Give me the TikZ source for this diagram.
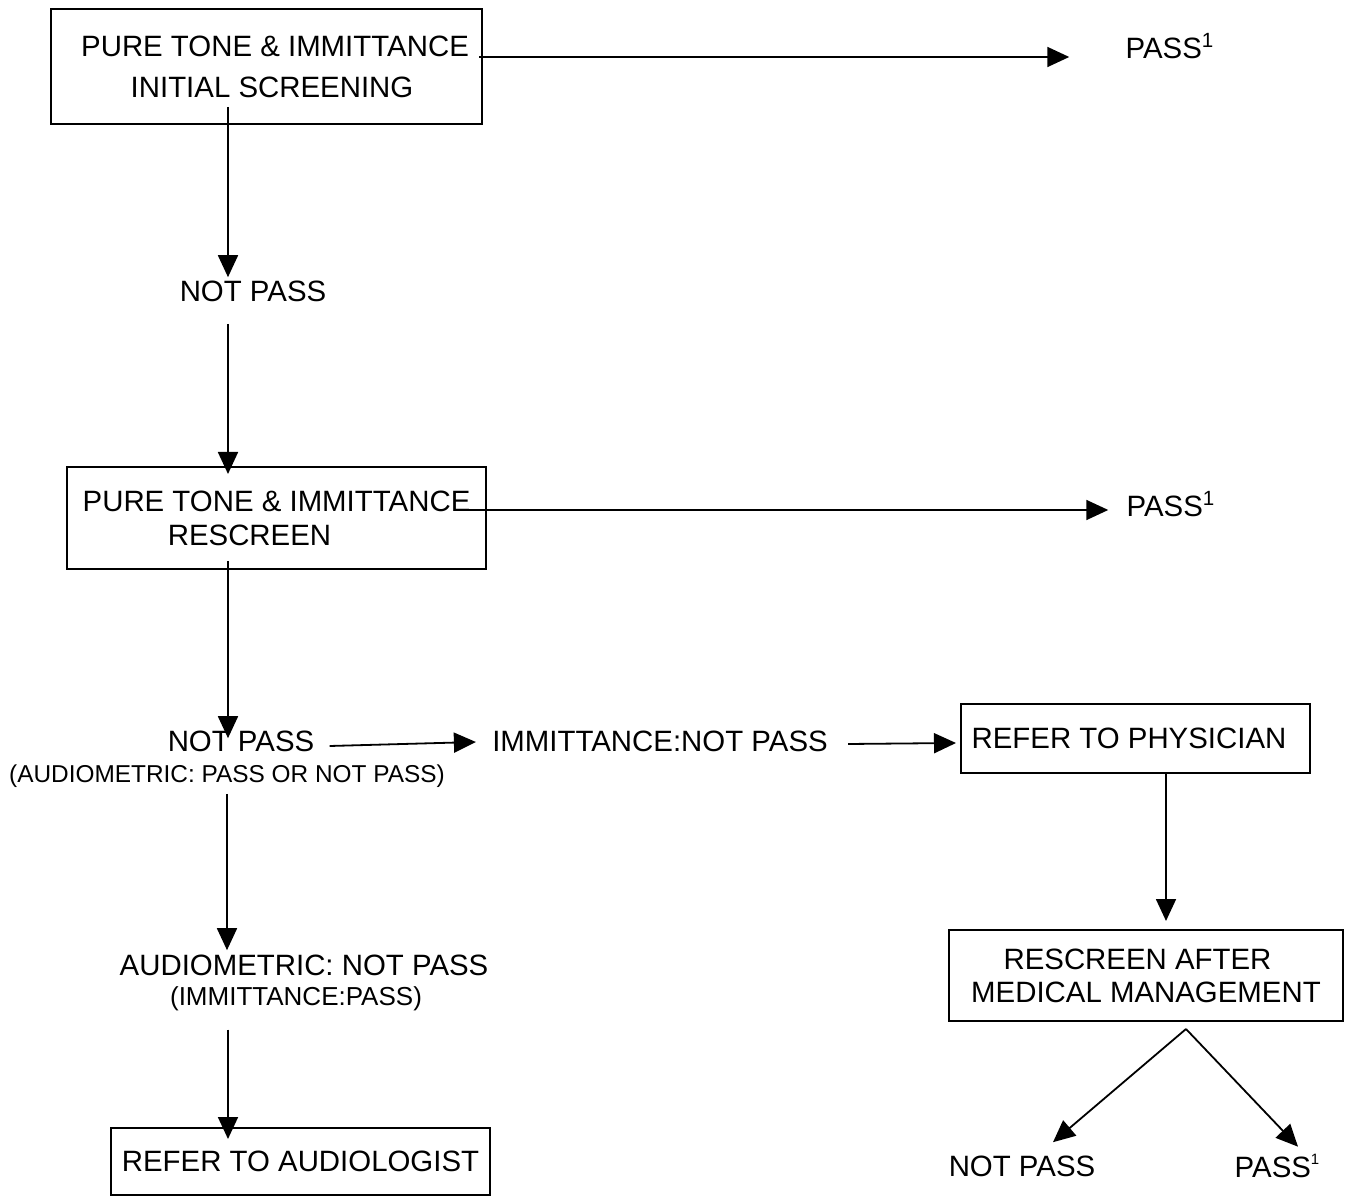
\documentclass[tikz,border=0pt]{standalone}
\usepackage{fontspec}
\setmainfont{Liberation Sans}
\usetikzlibrary{arrows.meta,calc}
\begin{document}
\begin{tikzpicture}[x=0.5pt,y=-0.5pt,
 box/.style={draw,line width=1pt,inner sep=0pt,align=center,font=\fontsize{14.7}{17}\selectfont},
 lbl/.style={inner sep=0pt,align=center,font=\fontsize{14.7}{17}\selectfont},
 sub/.style={inner sep=0pt,align=center,font=\fontsize{12.2}{14}\selectfont},
 arr/.style={line width=0.9pt,-{Triangle[length=11pt,width=10pt]}},
 ln/.style={line width=0.9pt}]
\useasboundingbox (0,0) rectangle (1350,1197);
% boxes
\node[box,minimum width=215.5pt,minimum height=57.5pt,font=\fontsize{14.7}{20.5}\selectfont] (b1) at (266.5,66.5) {\hspace*{8.5pt}PURE TONE \& IMMITTANCE\\\hspace*{5.5pt}INITIAL SCREENING};
\node[box,minimum width=209.5pt,minimum height=51pt] (b2) at (276.5,518) {PURE TONE \& IMMITTANCE\\RESCREEN\hspace*{27pt}};
\node[box,minimum width=174.5pt,minimum height=34.5pt] (phys) at (1135.5,738.5) {REFER TO PHYSICIAN\hspace*{6.5pt}};
\node[box,minimum width=197pt,minimum height=45.5pt,font=\fontsize{14.7}{16.5}\selectfont] (resc) at (1146,975.5) {RESCREEN AFTER\hspace*{8.5pt}\\MEDICAL MANAGEMENT};
\node[box,minimum width=189.5pt,minimum height=33.5pt] (audl) at (300.5,1161.5) {REFER TO AUDIOLOGIST};
% labels
\node[lbl] (pass1) at (1170,46) {PASS\textsuperscript{1}};
\node[lbl] (np1) at (253,291) {NOT PASS};
\node[lbl] (pass2) at (1171,504) {PASS\textsuperscript{1}};
\node[lbl] (np2) at (241,741) {NOT PASS};
\node[sub] (np2s) at (227,776) {(AUDIOMETRIC: PASS OR NOT PASS)};
\node[lbl] (imm) at (660,741) {IMMITTANCE:NOT PASS};
\node[lbl] (aud) at (304,965) {AUDIOMETRIC: NOT PASS};
\node[sub,font=\fontsize{13}{15}\selectfont] (auds) at (296,999) {(IMMITTANCE:PASS)};
\node[lbl] (npf) at (1022,1166) {NOT PASS};
\node[lbl] (passf) at (1277,1166) {PASS\raisebox{0.45em}{\fontsize{7.5}{8}\selectfont 1}};
% helper coordinates
\coordinate (s1) at ($(b1.east)+(-4,-9.5)$);
\coordinate (e1) at ($(pass1.west)+(-56,0)$);
\coordinate (s2) at ($(b2.east)+(-30,-8)$);
\coordinate (e2) at ($(pass2.west)+(-18,0)$);
% connectors
\draw[arr] (s1) -- (s1 -| e1);
\draw[arr] ($(b1.south)+(-38.5,-18)$) -- ($(np1.north)+(-25,-3)$);
\draw[arr] ($(np1.south)+(-25,22)$) -- ($(b2.north)+(-48.5,8)$);
\draw[arr] (s2) -- (s2 -| e2);
\draw[arr] ($(b2.south)+(-48.5,-9)$) -- ($(np2.north)+(-13,8)$);
\draw[arr] ($(np2.east)+(15,5)$) -- ($(imm.west)+(-16,1)$);
\draw[arr] ($(imm.east)+(20,3)$) -- ($(phys.west)+(-4,4.5)$);
\draw[arr] ($(phys.south)+(30.5,0)$) -- ($(resc.north)+(20,-8)$);
\draw[arr] ($(np2s.south)+(0,6)$) -- ($(aud.north)+(-77,-4)$);
\draw[arr] ($(auds.south)+(-68,18)$) -- ($(audl.north)+(-72.5,12)$);
\draw[arr] ($(resc.south)+(40,7)$) -- ($(npf.north)+(31,-13)$);
\draw[arr] ($(resc.south)+(40,7)$) -- ($(passf.north)+(21,-7)$);
\end{tikzpicture}
\end{document}
